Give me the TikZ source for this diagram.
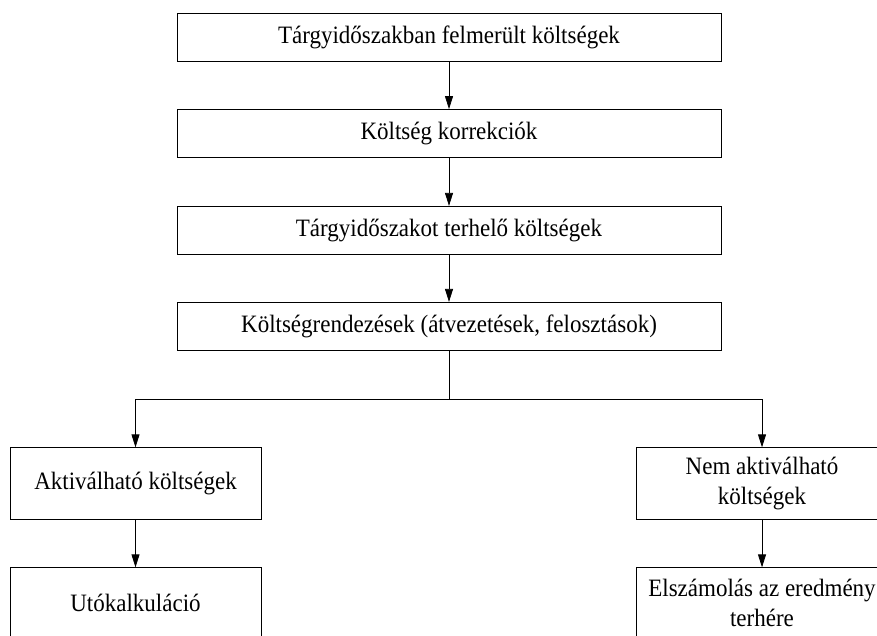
\documentclass[tikz,border=0pt]{standalone}
\usepackage{fontspec}
\setmainfont[FakeStretch=0.92]{Liberation Serif}
\usetikzlibrary{arrows.meta}
\begin{document}
\begin{tikzpicture}[x=1pt,y=-1pt,
  base/.style={draw=black, line width=0.8pt, inner sep=0pt, align=center,
    font=\fontsize{25}{30}\selectfont},
  mainbox/.style={base, minimum width=544pt, minimum height=48pt},
  sidebox/.style={base, minimum width=251pt, minimum height=71.3pt},
  arr/.style={draw=black, line width=0.8pt, -{Triangle[length=13pt,width=8pt]}},
  ln/.style={draw=black, line width=0.8pt}]
\useasboundingbox (0,0) rectangle (877,635);
\clip (0,0) rectangle (877,635);
\node[mainbox] (a) at (449,37.2) {Tárgyidőszakban felmerült költségek};
\node[mainbox] (b) at (449,133.5) {Költség korrekciók};
\node[mainbox] (c) at (449,230.3) {Tárgyidőszakot terhelő költségek};
\node[mainbox] (d) at (449,326.3) {Költségrendezések (átvezetések, felosztások)};
\node[sidebox] (e) at (135.5,483.4) {Aktiválható költségek};
\node[sidebox] (f) at (135.5,603.4) {Utókalkuláció};
\node[sidebox] (g) at (762,483.4) {Nem aktiválható\\költségek};
\node[sidebox] (h) at (762,603.4) {Elszámolás az eredmény\\terhére};
\coordinate (j) at (449,399.3);
\draw[arr] (a) -- (b);
\draw[arr] (b) -- (c);
\draw[arr] (c) -- (d);
\draw[ln] (d) -- (j);
\draw[arr] (j) -| (e);
\draw[arr] (j) -| (g);
\draw[arr] (e) -- (f);
\draw[arr] (g) -- (h);
\end{tikzpicture}
\end{document}
